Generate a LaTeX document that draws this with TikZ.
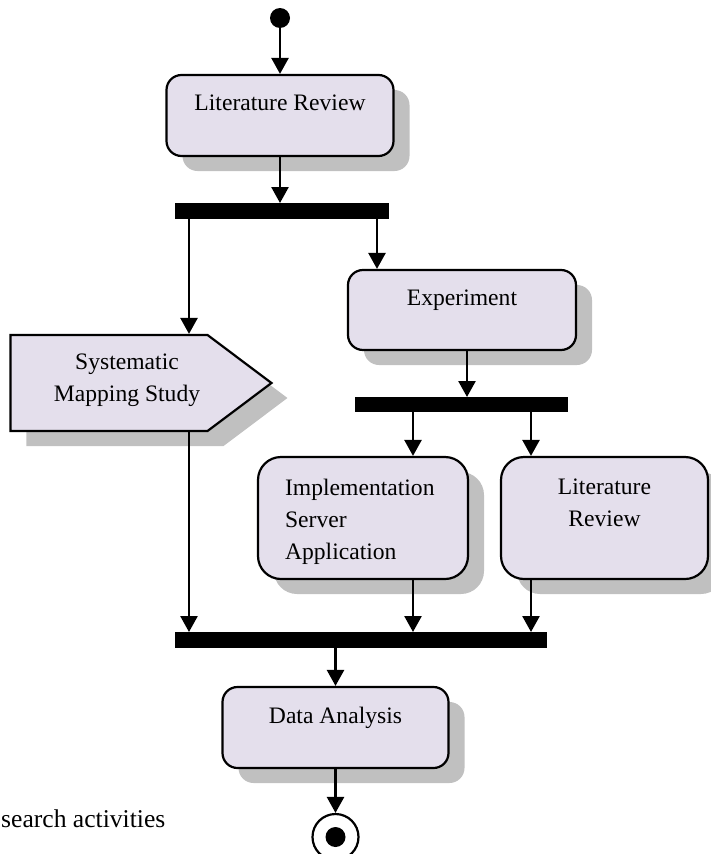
\documentclass[tikz,border=0pt]{standalone}
\usepackage{fontspec}
\setmainfont{Liberation Serif}
\usetikzlibrary{arrows.meta, positioning, calc, shapes.symbols, shadows}

\definecolor{actfill}{RGB}{228,223,236}
\definecolor{shadowgray}{RGB}{192,192,192}

\begin{document}
\begin{tikzpicture}[
		x=1pt, y=-1pt,
		font=\fontsize{23.6}{32}\selectfont,
		% Activity styles
		activity/.style={draw=black, line width=2.2pt, fill=actfill, rounded corners=15pt, inner sep=0pt,
			drop shadow={shadow xshift=16pt, shadow yshift=-15pt, fill=shadowgray, opacity=1}},
		acttext/.style={inner sep=0pt, align=center},
		caption/.style={inner sep=0pt, font=\fontsize{25.6}{30}\selectfont},
		% Fork/join bar and state styles
		syncbar/.style={fill=black, inner sep=0pt, outer sep=0pt, minimum height=16pt},
		flow/.style={-{Triangle[width=17pt, length=16pt]}, line width=2.6pt},
		startstate/.style={circle, fill=black, inner sep=0pt, minimum size=20pt},
		endstate/.style={circle, draw=black, line width=2.2pt, fill=white, inner sep=0pt, minimum size=46pt,
			path picture={\fill[black] (path picture bounding box.center) circle (10pt);}}
		]
		\useasboundingbox (0,0) rectangle (710,854);
		
		% --- TOP: START AND FIRST ACTIVITY ---
		\node[startstate] (start) at (280,18) {};
		\node[activity, minimum width=227pt, minimum height=81pt] (litrev1) at (280,115.5) {};
		\node[acttext, below=21pt of litrev1.north] (litrev1txt) {Literature Review};
		\node[syncbar, minimum width=214pt] (fork1) at (282,211) {};
		
		% --- LEFT BRANCH ---
		\node[activity, sharp corners, signal, signal to=east, signal from=nowhere, signal pointer angle=73.8,
			minimum width=261pt, minimum height=96pt] (sms) at (109,383) {};
		\node[acttext, anchor=north] (smstxt) at (127,354) {Systematic\\Mapping Study};
		
		% --- RIGHT BRANCH ---
		\node[activity, minimum width=228pt, minimum height=80pt] (exp) at (462,310) {};
		\node[acttext, below=21pt of exp.north] (exptxt) {Experiment};
		\node[syncbar, minimum width=213pt, minimum height=15pt] (fork2) at (461.5,404.5) {};
		
		\node[activity, rounded corners=23pt, minimum width=210pt, minimum height=122pt] (impl) at (363,518) {};
		\node[acttext, align=left, anchor=north west] (impltxt) at ([xshift=28pt, yshift=-23pt]impl.north west) {Implementation\\Server\\Application};
		
		\node[activity, rounded corners=23pt, minimum width=207pt, minimum height=122pt] (litrev2) at (604.5,518) {};
		\node[acttext, below=23pt of litrev2.north] (litrev2txt) {Literature\\Review};
		
		% --- BOTTOM: JOIN AND END ---
		\node[syncbar, minimum width=372pt] (join) at (361,640) {};
		\node[activity, minimum width=226pt, minimum height=81pt] (data) at (335.5,727.5) {};
		\node[acttext, below=21pt of data.north] (datatxt) {Data Analysis};
		\node[endstate] (finish) at (335.5,837) {};
		
		\node[caption, anchor=base west] (captxt) at (1,827) {search activities};
		
		% Connections
		\draw[flow] (start) -- (litrev1.north);
		\draw[flow] (litrev1.south) -- (litrev1.south |- fork1.north);
		\draw[flow] ([xshift=14pt]fork1.south west) -- ([xshift=14pt]fork1.south west |- sms.north);
		\draw[flow] ([xshift=-12pt]fork1.south east) -- ([xshift=-12pt]fork1.south east |- exp.north);
		\draw[flow] ([xshift=5pt]exp.south) -- ([xshift=5pt]exp.south |- fork2.north);
		\draw[flow] ([xshift=50pt]impl.north |- fork2.south) -- ([xshift=50pt]impl.north);
		\draw[flow] ([xshift=-73.5pt]litrev2.north |- fork2.south) -- ([xshift=-73.5pt]litrev2.north);
		\draw[flow] ([xshift=14pt]join.north west |- sms.south) -- ([xshift=14pt]join.north west);
		\draw[flow] ([xshift=50pt]impl.south) -- ([xshift=50pt]impl.south |- join.north);
		\draw[flow] ([xshift=-73.5pt]litrev2.south) -- ([xshift=-73.5pt]litrev2.south |- join.north);
		\draw[flow] (data.north |- join.south) -- (data.north);
		\draw[flow] (data.south) -- (finish.north);
		
	\end{tikzpicture}
\end{document}
